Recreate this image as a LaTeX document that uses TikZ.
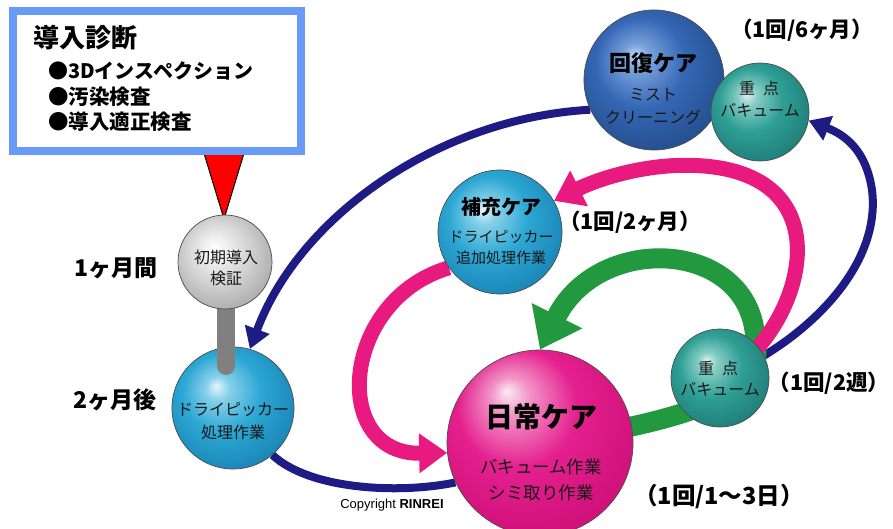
\documentclass[tikz,border=0pt]{standalone}
\usepackage{fontspec}
\setmainfont{Noto Sans CJK JP}
\newfontfamily\latsans{Liberation Sans}
\usetikzlibrary{arrows.meta}
\newcommand\myfs[1]{\fontsize{#1}{#1}\selectfont}
\definecolor{navyc}{HTML}{1F1B85}
\definecolor{pinkarrow}{HTML}{E8197F}
\definecolor{greenarrow}{HTML}{22993F}
\definecolor{framec}{HTML}{6A9AF8}
\definecolor{barc}{HTML}{808080}
% sphere colours
\definecolor{pkA}{HTML}{FCEAF3}\definecolor{pkB}{HTML}{F296C9}\definecolor{pkC}{HTML}{E4208E}\definecolor{pkD}{HTML}{D1127B}
\definecolor{lbA}{HTML}{E6F5FB}\definecolor{lbB}{HTML}{86D0EA}\definecolor{lbC}{HTML}{2CA7D4}\definecolor{lbD}{HTML}{1A86B6}
\definecolor{tlA}{HTML}{DDF2EE}\definecolor{tlB}{HTML}{86CDC4}\definecolor{tlC}{HTML}{2F9F96}\definecolor{tlD}{HTML}{1F7F78}
\definecolor{blA}{HTML}{BED4F2}\definecolor{blB}{HTML}{769FDA}\definecolor{blC}{HTML}{3567B5}\definecolor{blD}{HTML}{244F8E}
\definecolor{gyA}{HTML}{FFFFFF}\definecolor{gyB}{HTML}{F0F0F0}\definecolor{gyC}{HTML}{D2D2D2}\definecolor{gyD}{HTML}{ABABAB}
\pgfdeclareradialshading{pinkball}{\pgfpoint{-9bp}{14bp}}{color(0bp)=(pkA); color(5bp)=(pkB); color(16bp)=(pkC); color(30bp)=(pkD); color(50bp)=(pkD)}
\pgfdeclareradialshading{lblueball}{\pgfpoint{-7bp}{9bp}}{color(0bp)=(lbA); color(5bp)=(lbB); color(16bp)=(lbC); color(30bp)=(lbD); color(50bp)=(lbD)}
\pgfdeclareradialshading{tealball}{\pgfpoint{-7bp}{9bp}}{color(0bp)=(tlA); color(5bp)=(tlB); color(16bp)=(tlC); color(30bp)=(tlD); color(50bp)=(tlD)}
\pgfdeclareradialshading{blueball}{\pgfpoint{-7bp}{9bp}}{color(0bp)=(blA); color(5bp)=(blB); color(16bp)=(blC); color(30bp)=(blD); color(50bp)=(blD)}
\pgfdeclareradialshading{greyball}{\pgfpoint{-6bp}{8bp}}{color(0bp)=(gyA); color(6bp)=(gyB); color(17bp)=(gyC); color(30bp)=(gyD); color(50bp)=(gyD)}
\pgfdeclarelayer{bg}
\pgfdeclarelayer{canvas}
\pgfsetlayers{canvas,bg,main}
\begin{document}
\begin{tikzpicture}[x=1pt,y=-1pt,
  sphere/.style={circle, draw=black!70, line width=0.7pt, inner sep=0pt, shade, shading=#1},
  ttl/.style={inner sep=0pt, font=\bfseries\myfs{#1}, text=black},
  sub/.style={inner sep=0pt, font=\myfs{#1}, text=black!90},
  freq/.style={inner sep=0pt, font=\bfseries\myfs{#1}, text=black},
  boxtxt/.style={inner sep=0pt, anchor=west, font=\bfseries\myfs{#1}, text=black},
  navyline/.style={draw=navyc, line width=8pt},
  navyarrow/.style={navyline, -{Triangle[length=21pt,width=25pt]}},
  pinkarr/.style={draw=pinkarrow, line width=15pt, -{Triangle[length=28pt,width=38pt]}},
  greenarr/.style={draw=greenarrow, line width=20pt, -{Triangle[length=38pt,width=54pt]}},
]
\useasboundingbox (0,0) rectangle (893,529);
\begin{pgfonlayer}{canvas}
\fill[white] (0,0) rectangle (893,529);
\end{pgfonlayer}

% callout: triangle and box
\coordinate (tipL) at (203,150);
\coordinate (tipR) at (245,150);
\coordinate (tipT) at (224,219);
\draw[fill=red, line width=1pt] (tipL) -- (tipT) -- (tipR);
\node[draw=framec, line width=8pt, fill=white, minimum width=288pt, minimum height=140pt, inner sep=0pt] (diagbox) at (157,81) {};
\node[boxtxt=26] (t0) at (33,38) {導入診断};
\node[boxtxt=20] (t1) at (48,71) {●3Dインスペクション};
\node[boxtxt=20.5] (t2) at (48,97) {●汚染検査};
\node[boxtxt=20.5] (t3) at (48,122) {●導入適正検査};

% spheres
\node[sphere=blueball, minimum size=140pt] (kaifuku) at (654,80) {};
\node[sphere=tealball, minimum size=98pt] (juten1) at (760,112) {};
\node[sphere=lblueball, minimum size=124pt] (hoju) at (500,232) {};
\node[sphere=lblueball, minimum size=122pt] (ddp) at (233,408) {};
\coordinate (bartop) at (226,290);
\coordinate (barend) at (226,366);
\draw[barc, line width=18pt, line cap=round] (bartop) -- (barend);
\node[sphere=greyball, minimum size=94pt] (shoki) at (225,262) {};
\node[sphere=pinkball, minimum size=186pt] (nichijo) at (540,443) {};
\node[sphere=tealball, minimum size=98pt] (juten2) at (720,378) {};

% sphere texts
\node[ttl=22] (k1) at (653,63) {回復ケア};
\node[sub=16] (k2) at (653,95) {ミスト};
\node[sub=16] (k3) at (653,117) {クリーニング};
\node[sub=16] (j1a) at (759,88) {重\hspace{0.5em}点};
\node[sub=16] (j1b) at (760,110) {バキューム};
\node[ttl=20] (h1) at (501,207) {補充ケア};
\node[sub=15] (h2) at (501,237) {ドライピッカー};
\node[sub=15] (h3) at (501,258) {追加処理作業};
\node[sub=16] (s1) at (226,257) {初期導入};
\node[sub=16] (s2) at (226,278) {検証};
\node[sub=16] (d1) at (233,410) {ドライピッカー};
\node[sub=16] (d2) at (233,432) {処理作業};
\node[ttl=28] (n1) at (541,417) {日常ケア};
\node[sub=17.5] (n2) at (541,467) {バキューム作業};
\node[sub=17.5] (n3) at (541,493) {シミ取り作業};
\node[sub=16] (j2a) at (718,368) {重\hspace{0.5em}点};
\node[sub=16] (j2b) at (720,389) {バキューム};

% labels
\node[freq=21.5] (f6m) at (802,30) {（1回/6ヶ月）};
\node[freq=21.5] (f2m) at (630,222) {（1回/2ヶ月）};
\node[freq=21.5] (f2w) at (829,383) {（1回/2週）};
\node[freq=23.5] (f1d) at (719,497) {（1回/1～3日）};
\node[freq=23] (m1) at (116,268) {1ヶ月間};
\node[freq=23] (m2) at (115,400) {2ヶ月後};
\node[inner sep=0pt, font=\latsans\myfs{13}] (copy) at (392,505) {Copyright \textbf{RINREI}};

% connectors behind the spheres
\begin{pgfonlayer}{bg}
\draw[navyarrow] (kaifuku.205) .. controls (440,118) and (300,215) .. (ddp.74);
\draw[navyline] (ddp.-50) .. controls (310,490) and (400,494) .. (nichijo.205);
\draw[navyarrow] (juten2.center) .. controls (800,345) and (882,270) .. (872,190) .. controls (866,150) and (845,135) .. (juten1.-10);
\draw[greenarr] (nichijo.center) .. controls (690,420) and (765,395) .. (juten2.44) .. controls (755,240) and (600,230) .. (nichijo.north);
\draw[pinkarr] (juten2.center) .. controls (795,340) and (848,190) .. (720,168) .. controls (660,158) and (600,178) .. (hoju.30);
\draw[pinkarr] (hoju.215) .. controls (340,300) and (330,455) .. (nichijo.186);
\end{pgfonlayer}
\end{tikzpicture}
\end{document}
